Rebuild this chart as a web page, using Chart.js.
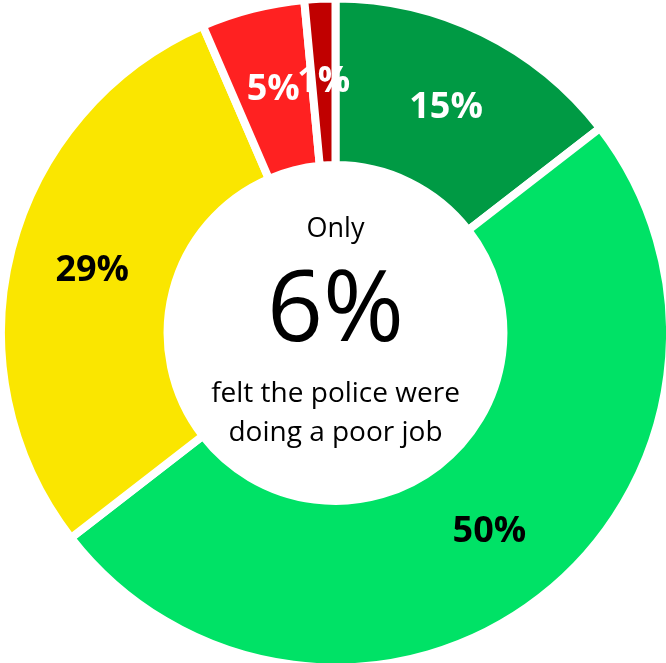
<!DOCTYPE html>
<html>
<head>
<meta charset="utf-8">
<script src="https://cdn.jsdelivr.net/npm/chart.js@4"></script>
<style>
  html, body { margin: 0; padding: 0; background: #ffffff; }
  #wrap { width: 666px; height: 663px; }
</style>
</head>
<body>
<div id="wrap"><canvas id="c" width="666" height="663"></canvas></div>
<script>
const categories = ["Good", "Very good", "Fair", "Poor", "Very poor"];
const values = [14.51, 50, 29, 5, 1.49];
const valueLabels = ["15%", "50%", "29%", "5%", "1%"];
const sliceColors = ["#009A44", "#00E266", "#FAE600", "#FF2121", "#C00000"];
const labelColors = ["#ffffff", "#000000", "#000000", "#ffffff", "#ffffff"];
const centerLines = ["Only", "6%", "felt the police were", "doing a poor job"];

const FONT = "'Open Sans', 'DejaVu Sans', sans-serif";

const sliceLabels = {
  id: 'sliceLabels',
  afterDatasetsDraw(chart) {
    const ctx = chart.ctx;
    const meta = chart.getDatasetMeta(0);
    ctx.save();
    ctx.textAlign = 'center';
    ctx.textBaseline = 'middle';
    ctx.font = "bold 36px " + FONT;
    meta.data.forEach((arc, i) => {
      const p = arc.tooltipPosition();
      ctx.fillStyle = labelColors[i];
      ctx.fillText(valueLabels[i], p.x, p.y);
    });
    ctx.restore();
  }
};

const centerText = {
  id: 'centerText',
  afterDraw(chart) {
    const ctx = chart.ctx;
    const arc = chart.getDatasetMeta(0).data[0];
    const cx = arc.x, cy = arc.y;
    ctx.save();
    ctx.textAlign = 'center';
    ctx.textBaseline = 'middle';
    ctx.fillStyle = '#000000';
    ctx.font = "27px " + FONT;
    ctx.fillText(centerLines[0], cx, cy - 104);
    ctx.font = "98px " + FONT;
    ctx.fillText(centerLines[1], cx, cy - 20);
    ctx.font = "28px " + FONT;
    ctx.fillText(centerLines[2], cx, cy + 61);
    ctx.fillText(centerLines[3], cx, cy + 100);
    ctx.restore();
  }
};

new Chart(document.getElementById('c'), {
  type: 'doughnut',
  data: {
    labels: categories,
    datasets: [{
      data: values,
      backgroundColor: sliceColors,
      borderColor: '#ffffff',
      borderWidth: 8,
      hoverOffset: 0
    }]
  },
  options: {
    responsive: false,
    animation: false,
    devicePixelRatio: 1,
    radius: 334.5,
    cutout: '50.2%',
    layout: { padding: { left: 5, top: 3, right: 0, bottom: 0 } },
    plugins: {
      legend: { display: false },
      tooltip: { enabled: false }
    }
  },
  plugins: [sliceLabels, centerText]
});
</script>
</body>
</html>
